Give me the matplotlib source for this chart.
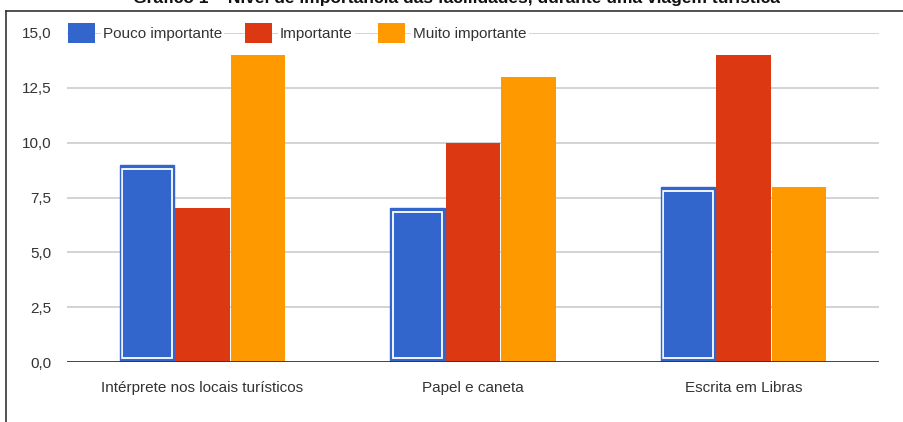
import matplotlib
matplotlib.use("Agg")
import matplotlib.pyplot as plt
from matplotlib import font_manager
from matplotlib.patches import Rectangle
from matplotlib.lines import Line2D
import numpy as np

categories = ["Intérprete nos locais turísticos", "Papel e caneta", "Escrita em Libras"]
series_names = ["Pouco importante", "Importante", "Muito importante"]
pouco = [9, 7, 8]
importante = [7, 10, 14]
muito = [14, 13, 8]
yticks = [0, 2.5, 5, 7.5, 10, 12.5, 15]
ytick_labels = ["0,0", "2,5", "5,0", "7,5", "10,0", "12,5", "15,0"]
title = "Gráfico 1 – Nível de importância das facilidades, durante uma viagem turística"
colors = ["#3366cc", "#dc3912", "#ff9900"]

names = {f.name for f in font_manager.fontManager.ttflist}
fam = "Liberation Sans Narrow" if "Liberation Sans Narrow" in names else "Liberation Sans"
plt.rcParams["font.family"] = [fam, "DejaVu Sans"]

W, H = 904, 422
fig = plt.figure(figsize=(W / 100, H / 100), dpi=100)

def fx(px):
    return px / W

def fy(py):
    return 1 - py / H

left, right, top, bottom = 67, 879, 33, 362
ax = fig.add_axes([fx(left), fy(bottom), fx(right - left), fy(top) - fy(bottom)])
ax.set_xlim(-0.5, 2.5)
ax.set_ylim(0, 15)

# frame lines of the outer box
fig.add_artist(Line2D([fx(6), fx(6)], [fy(11), 0], color="#333333", lw=1.2, transform=fig.transFigure))
fig.add_artist(Line2D([fx(6), 1], [fy(11), fy(11)], color="#333333", lw=1.2, transform=fig.transFigure))

fig.text(fx(456), fy(-2), title, ha="center", va="center", fontsize=12.5, fontweight="bold", color="#111111")

for y in yticks[1:]:
    ax.axhline(y, color="#d0d0d0", lw=1.3, zorder=0)

x = np.arange(len(categories))
bw = 0.205
offsets = [-bw, 0, bw]
data = [pouco, importante, muito]
for i, (vals, c) in enumerate(zip(data, colors)):
    ax.bar(x + offsets[i], vals, width=bw - 0.004, color=c, edgecolor="none", zorder=2)

# inner white outline on the blue (selected) series
ppx = 3.0 / (right - left) * 3.0  # 3 px in x data units
ppy = 4.0 / (bottom - top) * 15.0
ax.bar(x + offsets[0], np.array(pouco) - 2 * ppy, bottom=ppy, width=bw - 2 * ppx,
       facecolor="none", edgecolor="white", lw=1.3, zorder=3)
ax.bar(x + offsets[0], pouco, width=bw - 0.004, facecolor="none", edgecolor="#3366cc", lw=1.0, zorder=3)

ax.axhline(0, color="#333333", lw=2.0, zorder=4)

for s in ax.spines.values():
    s.set_visible(False)
ax.set_yticks(yticks)
ax.set_yticklabels(ytick_labels)
ax.set_xticks(x)
ax.set_xticklabels(categories)
ax.tick_params(axis="both", length=0, labelsize=11, labelcolor="#333333")
ax.tick_params(axis="y", pad=11)
ax.tick_params(axis="x", pad=14)

# legend drawn over the top gridline
leg_items = [(68, 103), (245, 280), (378, 413)]
for (rx, tx), name, c in zip(leg_items, series_names, colors):
    fig.add_artist(Rectangle((fx(rx), fy(43)), fx(27), fy(23) - fy(43), facecolor=c,
                             edgecolor="none", transform=fig.transFigure, zorder=5))
    fig.text(fx(tx), fy(34), name, ha="left", va="center", fontsize=11, color="#333333",
             bbox=dict(facecolor="white", edgecolor="none", pad=1.5), zorder=5)

fig.savefig("out.png", dpi=100)
